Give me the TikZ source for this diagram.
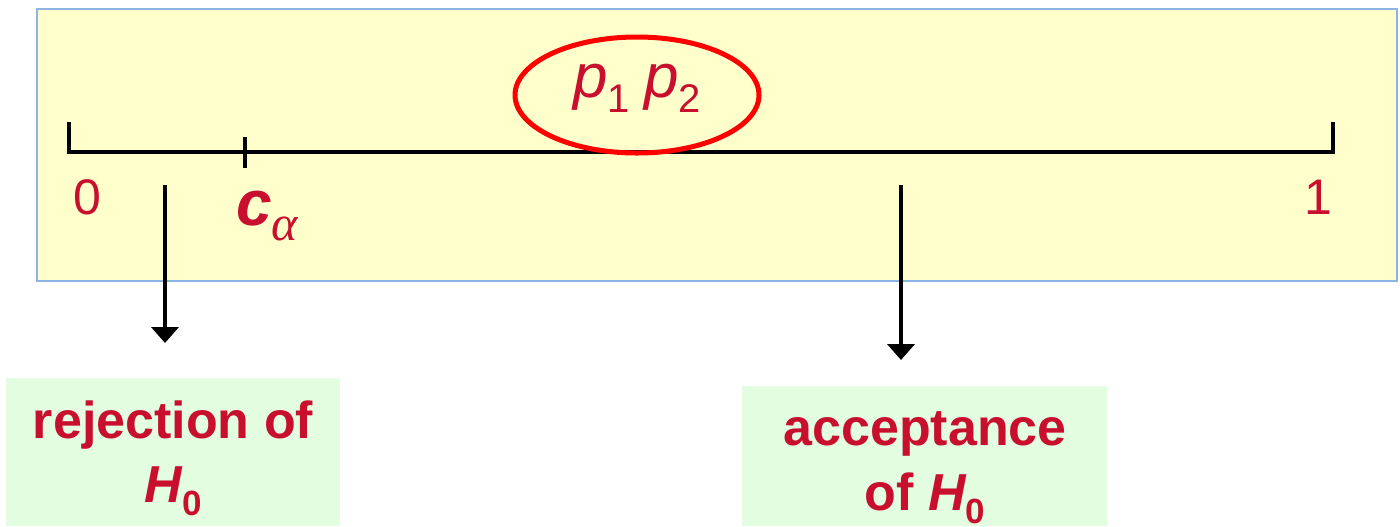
\documentclass[tikz,border=0pt]{standalone}
\usepackage{fontspec}
\setmainfont{Liberation Sans}
\newfontfamily\serifgreek{Liberation Serif}
\usetikzlibrary{arrows.meta,shapes.geometric}
\definecolor{crimson}{HTML}{C8102E}
\definecolor{panelfill}{HTML}{FFFFCC}
\definecolor{panelline}{HTML}{8EB4E3}
\definecolor{outcomefill}{HTML}{E2FDE0}
\definecolor{ringred}{HTML}{FF0000}
\newcommand{\subzero}{\raisebox{-6.5pt}{\fontsize{17.5}{20}\selectfont\upshape 0}}
\tikzset{
  panel/.style={draw=panelline, line width=1pt, fill=panelfill},
  outcome/.style={fill=outcomefill, draw=none, inner sep=0pt},
  axisline/.style={line width=2.1pt, black},
  ticklabel/.style={text=crimson, inner sep=0pt, font=\fontsize{25}{30}\selectfont},
  outcometext/.style={text=crimson, inner sep=0pt, anchor=base, font=\fontsize{26}{32}\selectfont\bfseries},
  pointer/.style={line width=2pt, -{Triangle[width=13.5pt,length=8pt]}},
  ring/.style={draw=ringred, line width=2.5pt, ellipse},
}
\begin{document}
\begin{tikzpicture}[x=0.5pt,y=-0.5pt]
\useasboundingbox (0,0) rectangle (1400,526);

% background panel holding the unit interval
\node[panel, minimum width=680pt, minimum height=136pt, inner sep=0pt] (panel) at (717,145) {};

% the interval [0,1] with end ticks and the critical value tick
\coordinate (a0) at (69,152);
\coordinate (a1) at (1333,152);
\draw[axisline] (69,122) -- (a0) -- (a1) -- (1333,122);
\coordinate (ctop) at (245,137);
\coordinate (cbot) at (245,168);
\draw[axisline] (ctop) -- (cbot);

\node[ticklabel] (zero) at (87,197) {0};
\node[ticklabel] (one) at (1318,197) {1};
\node[text=crimson, inner sep=0pt, anchor=base west] (calpha) at (236,225)
  {\fontsize{32}{36}\selectfont\bfseries\itshape c\raisebox{-7.5pt}{\fontsize{25}{28}\selectfont\mdseries\serifgreek\itshape α}};

% the p-values, circled
\node[ring, minimum width=122pt, minimum height=58pt, inner sep=0pt] (ring) at (637,95) {};
\node[text=crimson, inner sep=0pt, anchor=base] (pvals) at (637,97)
  {\fontsize{31}{36}\selectfont\itshape p\raisebox{-7.5pt}{\fontsize{20}{22}\selectfont\upshape 1}\hspace{7pt}p\raisebox{-7.5pt}{\fontsize{20}{22}\selectfont\upshape 2}};

% outcome boxes
\node[outcome, minimum width=167pt, minimum height=74pt] (rejbox) at (173,452) {};
\node[outcometext] (rejtxt) at (173,438) {rejection of};
\node[outcometext] (rejh) at (173,502) {\itshape H\subzero};

\node[outcome, minimum width=182.5pt, minimum height=70pt] (accbox) at (924.5,456) {};
\node[outcometext] (acctxt) at (925,445) {acceptance};
\node[outcometext] (acch) at (925,510) {of \itshape H\subzero};

% pointers from the regions of the interval
\coordinate (rejfrom) at (165,185);
\coordinate (rejto) at (165,343);
\draw[pointer] (rejfrom) -- (rejto);
\coordinate (accfrom) at (901,185);
\coordinate (accto) at (901,360);
\draw[pointer] (accfrom) -- (accto);
\end{tikzpicture}
\end{document}
